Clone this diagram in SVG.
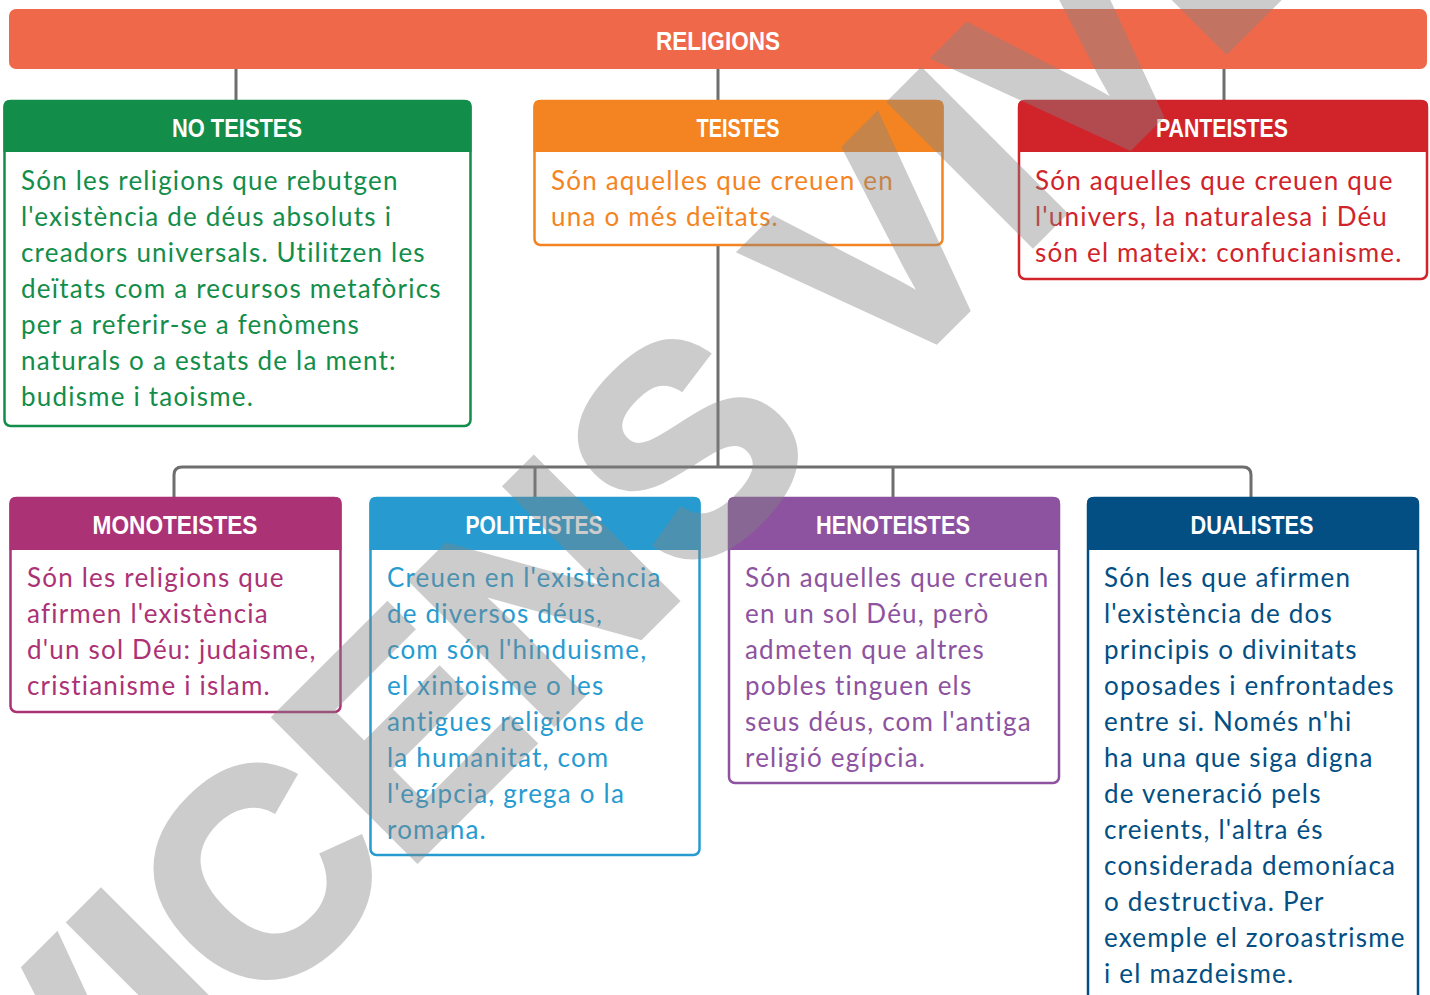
<svg xmlns="http://www.w3.org/2000/svg" width="1430" height="995" viewBox="0 0 1430 995">
<style>
.hd{font-family:"Liberation Sans",Arial,sans-serif;font-weight:bold;font-size:26px;fill:#fff;text-anchor:middle}
.bd{font-family:Lato,"Open Sans",sans-serif;font-size:26px;letter-spacing:1.2px}
.box{fill:#fff;stroke-width:2.5}
.ln{fill:none;stroke:#6e6e6e;stroke-width:3}
.wm{font-family:"Liberation Sans",Arial,sans-serif;font-weight:bold;font-size:290px;fill:#848484;stroke:#848484;stroke-width:8;opacity:0.41}
</style>
<rect width="1430" height="995" fill="#fff"/>
<g id="connectors">
<path class="ln" d="M236 69V100M718 69V100M1224 69V100M718 246V467"/>
<path class="ln" d="M174 497V475Q174 467 182 467H1243Q1251 467 1251 475V497M535 467V497M893 467V497"/>
</g>
<g id="religions">
<rect x="9" y="9" width="1418" height="60" rx="7" fill="#F0684A"/>
<text class="hd" x="718" y="50" textLength="124" lengthAdjust="spacingAndGlyphs">RELIGIONS</text>
</g>
<g id="no-teistes">
<rect class="box" x="4.5" y="101" width="466" height="325" rx="6" stroke="#128D4A"/>
<path d="M3.5 152V106Q3.5 100 9.5 100H465.5Q471.5 100 471.5 106V152Z" fill="#128D4A"/>
<text class="hd" x="237" y="137" textLength="130" lengthAdjust="spacingAndGlyphs">NO TEISTES</text>
<text class="bd" fill="#128D4A"><tspan x="21" y="190">Són les religions que rebutgen</tspan><tspan x="21" y="226">l'existència de déus absoluts i</tspan><tspan x="21" y="262">creadors universals. Utilitzen les</tspan><tspan x="21" y="298">deïtats com a recursos metafòrics</tspan><tspan x="21" y="334">per a referir-se a fenòmens</tspan><tspan x="21" y="370">naturals o a estats de la ment:</tspan><tspan x="21" y="406">budisme i taoisme.</tspan></text>
</g>
<g id="teistes">
<rect class="box" x="534.5" y="101" width="408" height="144" rx="6" stroke="#F48422"/>
<path d="M533.5 152V106Q533.5 100 539.5 100H937.5Q943.5 100 943.5 106V152Z" fill="#F48422"/>
<text class="hd" x="738" y="137" textLength="83" lengthAdjust="spacingAndGlyphs">TEISTES</text>
<text class="bd" fill="#F48422"><tspan x="551" y="190">Són aquelles que creuen en</tspan><tspan x="551" y="226">una o més deïtats.</tspan></text>
</g>
<g id="panteistes">
<rect class="box" x="1019" y="101" width="408" height="178" rx="6" stroke="#D1232A"/>
<path d="M1018 152V106Q1018 100 1024 100H1422Q1428 100 1428 106V152Z" fill="#D1232A"/>
<text class="hd" x="1222" y="137" textLength="132" lengthAdjust="spacingAndGlyphs">PANTEISTES</text>
<text class="bd" fill="#D1232A"><tspan x="1035" y="190">Són aquelles que creuen que</tspan><tspan x="1035" y="226">l'univers, la naturalesa i Déu</tspan><tspan x="1035" y="262">són el mateix: confucianisme.</tspan></text>
</g>
<g id="monoteistes">
<rect class="box" x="10.5" y="498" width="330" height="214" rx="6" stroke="#AC3276"/>
<path d="M9.5 550V503Q9.5 497 15.5 497H335.5Q341.5 497 341.5 503V550Z" fill="#AC3276"/>
<text class="hd" x="175" y="534" textLength="165" lengthAdjust="spacingAndGlyphs">MONOTEISTES</text>
<text class="bd" fill="#AC3276"><tspan x="27" y="587">Són les religions que</tspan><tspan x="27" y="623">afirmen l'existència</tspan><tspan x="27" y="659">d'un sol Déu: judaisme,</tspan><tspan x="27" y="695">cristianisme i islam.</tspan></text>
</g>
<g id="politeistes">
<rect class="box" x="370.5" y="498" width="329" height="357" rx="6" stroke="#279BD0"/>
<path d="M369.5 550V503Q369.5 497 375.5 497H694.5Q700.5 497 700.5 503V550Z" fill="#279BD0"/>
<text class="hd" x="534" y="534" textLength="137" lengthAdjust="spacingAndGlyphs">POLITEISTES</text>
<text class="bd" fill="#279BD0"><tspan x="387" y="587">Creuen en l'existència</tspan><tspan x="387" y="623">de diversos déus,</tspan><tspan x="387" y="659">com són l'hinduisme,</tspan><tspan x="387" y="695">el xintoisme o les</tspan><tspan x="387" y="731">antigues religions de</tspan><tspan x="387" y="767">la humanitat, com</tspan><tspan x="387" y="803">l'egípcia, grega o la</tspan><tspan x="387" y="839">romana.</tspan></text>
</g>
<g id="henoteistes">
<rect class="box" x="729" y="498" width="330" height="285" rx="6" stroke="#8E53A0"/>
<path d="M728 550V503Q728 497 734 497H1054Q1060 497 1060 503V550Z" fill="#8E53A0"/>
<text class="hd" x="893" y="534" textLength="154" lengthAdjust="spacingAndGlyphs">HENOTEISTES</text>
<text class="bd" fill="#8E53A0"><tspan x="745" y="587">Són aquelles que creuen</tspan><tspan x="745" y="623">en un sol Déu, però</tspan><tspan x="745" y="659">admeten que altres</tspan><tspan x="745" y="695">pobles tinguen els</tspan><tspan x="745" y="731">seus déus, com l'antiga</tspan><tspan x="745" y="767">religió egípcia.</tspan></text>
</g>
<g id="dualistes">
<rect class="box" x="1088" y="498" width="330" height="520" rx="6" stroke="#034F84"/>
<path d="M1087 550V503Q1087 497 1093 497H1413Q1419 497 1419 503V550Z" fill="#034F84"/>
<text class="hd" x="1252" y="534" textLength="123" lengthAdjust="spacingAndGlyphs">DUALISTES</text>
<text class="bd" fill="#034F84"><tspan x="1104" y="587">Són les que afirmen</tspan><tspan x="1104" y="623">l'existència de dos</tspan><tspan x="1104" y="659">principis o divinitats</tspan><tspan x="1104" y="695">oposades i enfrontades</tspan><tspan x="1104" y="731">entre si. Només n'hi</tspan><tspan x="1104" y="767">ha una que siga digna</tspan><tspan x="1104" y="803">de veneració pels</tspan><tspan x="1104" y="839">creients, l'altra és</tspan><tspan x="1104" y="875">considerada demoníaca</tspan><tspan x="1104" y="911">o destructiva. Per</tspan><tspan x="1104" y="947">exemple el zoroastrisme</tspan><tspan x="1104" y="983">i el mazdeisme.</tspan></text>
</g>
<g id="watermark">
<text class="wm" transform="translate(62,1214) rotate(-45)">VICENS VIVES</text>
</g>
</svg>
